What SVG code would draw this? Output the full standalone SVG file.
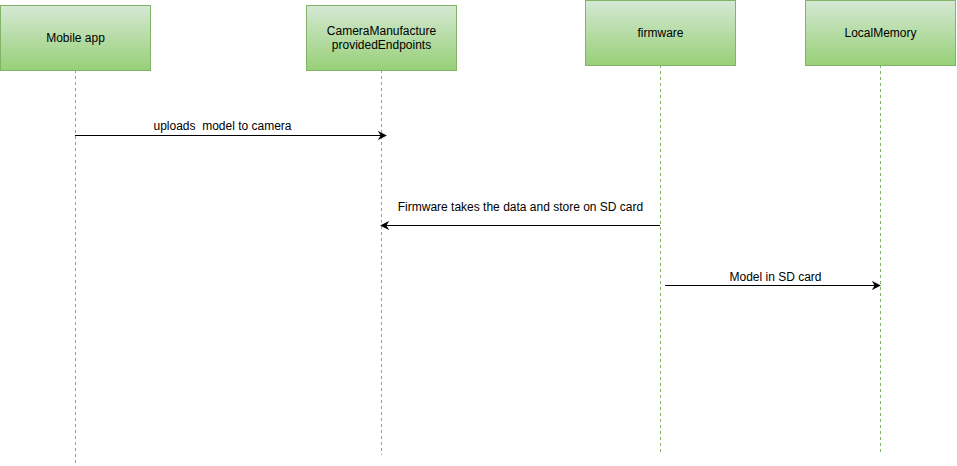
<svg xmlns="http://www.w3.org/2000/svg" width="957" height="466" viewBox="0 0 957 466">
<defs>
<linearGradient id="g" x1="0" y1="0" x2="0" y2="1">
<stop offset="0" stop-color="#d5e8d4"/>
<stop offset="1" stop-color="#97d077"/>
</linearGradient>
<marker id="arr" viewBox="0 0 10 10" refX="9" refY="5" markerWidth="9" markerHeight="9" markerUnits="userSpaceOnUse" orient="auto">
<path d="M0,0 L10,5 L0,10 L3,5 Z" fill="#000"/>
</marker>
<style>
.box{fill:url(#g);stroke:#82b366;stroke-width:1}
.life{stroke:#82b366;stroke-width:1;stroke-dasharray:3 3;fill:none}
.t{font-family:"Liberation Sans",Arial,sans-serif;font-size:12px;fill:#000;text-anchor:middle}
.msg{stroke:#000;stroke-width:1;fill:none;marker-end:url(#arr)}
</style>
</defs>
<g id="mobile">
<line class="life" x1="75.5" y1="70" x2="75.5" y2="463"/>
<rect class="box" x="0.5" y="5.5" width="150" height="65"/>
<text class="t" x="75.5" y="42">Mobile app</text>
</g>
<g id="camera">
<line class="life" x1="381.5" y1="70" x2="381.5" y2="455"/>
<rect class="box" x="306.5" y="5.5" width="150" height="65"/>
<text class="t" x="381.5" y="35">CameraManufacture</text>
<text class="t" x="381.5" y="49">providedEndpoints</text>
</g>
<g id="firmware">
<line class="life" x1="660.5" y1="65" x2="660.5" y2="452"/>
<rect class="box" x="585.5" y="0.5" width="150" height="65"/>
<text class="t" x="660.5" y="37">firmware</text>
</g>
<g id="localmemory">
<line class="life" x1="880.5" y1="65" x2="880.5" y2="452"/>
<rect class="box" x="805.5" y="0.5" width="150" height="65"/>
<text class="t" x="880.5" y="37">LocalMemory</text>
</g>
<g id="connectors">
<line class="msg" x1="75" y1="135.5" x2="386" y2="135.5"/>
<text class="t" x="222.5" y="130" xml:space="preserve">uploads  model to camera</text>
<line class="msg" x1="660" y1="225.5" x2="381" y2="225.5"/>
<text class="t" x="520.5" y="211">Firmware takes the data and store on SD card</text>
<line class="msg" x1="665" y1="285.5" x2="880" y2="285.5"/>
<text class="t" x="775.5" y="281">Model in SD card</text>
</g>
</svg>
